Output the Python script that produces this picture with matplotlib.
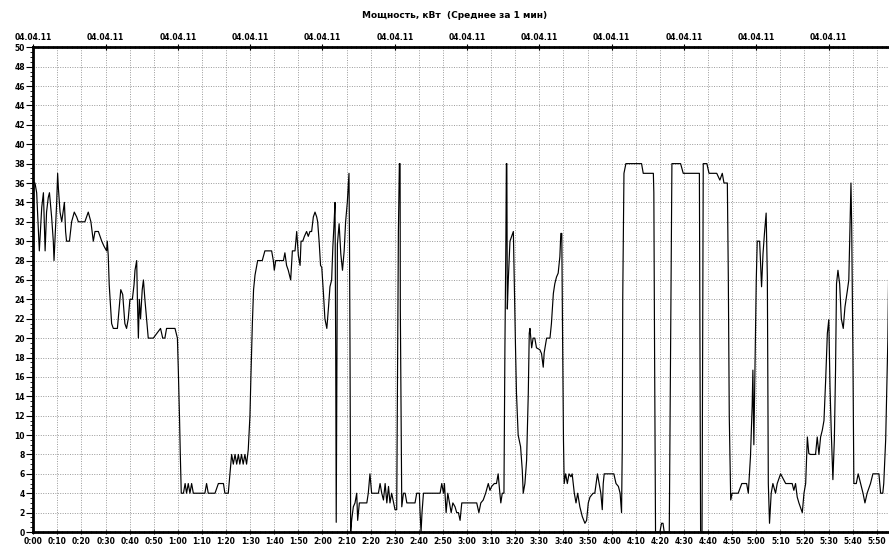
import matplotlib
matplotlib.use("Agg")
import matplotlib.pyplot as plt
from matplotlib.ticker import MultipleLocator, FuncFormatter

# minutes since 0:00 and average power (kW)
minutes = [
    0, 0.7, 1.4, 2.5, 3.5, 4.2, 4.9, 5.5, 6.2, 6.7, 7.6, 8.3, 8.6, 9.7, 10.1, 10.4,
    11.1, 11.8, 12.9, 13.4, 13.8, 15.0, 15.9, 17.0, 18.0, 18.7, 21.4, 22.8, 23.9,
    24.9, 25.6, 27.0, 28.4, 29.3, 30.4, 30.7, 31.1, 31.5, 32.5, 33.2, 34.9, 35.6,
    36.3, 37.1, 38.0, 38.7, 39.4, 40.1, 41.1, 41.8, 42.2, 42.9, 43.2, 43.6, 44.0,
    44.5, 45.2, 45.7, 46.3, 47.0, 47.7, 49.8, 51.9, 52.8, 53.7, 54.6, 55.3, 58.8,
    59.8, 60.2, 60.7, 61.0, 61.4, 62.3, 63.0, 63.6, 64.3, 65.0, 65.7, 66.4, 71.2,
    71.9, 72.6, 75.4, 76.8, 78.9, 79.5, 80.9, 81.6, 82.3, 83.0, 83.7, 84.4, 85.1,
    85.7, 86.4, 87.1, 87.8, 88.5, 89.2, 89.9, 90.3, 90.9, 91.4, 92.0, 93.1, 95.0,
    96.1, 98.9, 99.6, 100.0, 100.6, 103.8, 104.4, 105.1, 105.8, 106.8, 107.5, 108.6,
    109.3, 110.0, 110.7, 111.1, 111.8, 112.5, 113.4, 114.1, 114.8, 115.5, 116.2,
    116.9, 117.6, 118.0, 118.6, 119.2, 119.7, 120.4, 121.0, 121.8, 122.5, 123.1,
    123.8, 124.3, 124.8, 125.2, 125.5, 125.7, 126.0, 126.2, 126.9, 127.6, 128.3,
    129.0, 129.6, 130.3, 131.0, 131.2, 131.4, 131.7, 132.1, 132.8, 133.5, 134.2,
    134.6, 135.3, 135.9, 138.4, 139.0, 139.7, 140.4, 143.2, 143.9, 144.6, 145.3,
    146.0, 146.7, 147.4, 148.0, 148.7, 150.1, 150.8, 151.1, 151.5, 151.9, 152.2,
    152.3, 152.6, 152.9, 153.6, 154.3, 155.0, 158.4, 159.1, 160.2, 160.5, 160.9,
    161.3, 161.9, 168.8, 169.5, 170.2, 170.6, 171.3, 172.0, 172.7, 173.4, 174.1,
    175.0, 175.7, 176.4, 177.1, 177.8, 178.5, 184.0, 184.9, 185.7, 186.7, 187.7,
    188.8, 189.5, 190.2, 191.3, 192.2, 192.9, 193.6, 194.0, 194.6, 195.3, 195.7,
    196.1, 196.3, 196.5, 196.7, 197.1, 197.8, 198.5, 199.2, 199.6, 200.1, 200.5,
    201.2, 202.2, 202.9, 203.3, 204.0, 204.7, 205.4, 205.8, 206.1, 206.8, 207.4,
    208.1, 208.8, 210.2, 210.9, 211.6, 212.0, 213.0, 214.4, 215.0, 215.8, 216.4,
    217.1, 217.8, 218.5, 218.9, 219.3, 219.6, 220.0, 220.3, 220.9, 221.6, 222.3,
    223.1, 223.6, 224.5, 225.2, 225.9, 226.8, 227.8, 228.9, 229.6, 230.3, 231.0,
    232.3, 233.0, 234.1, 234.8, 235.5, 236.1, 236.5, 236.9, 240.9, 241.8, 242.8,
    243.5, 244.1, 244.4, 244.6, 245.1, 245.9, 252.4, 253.1, 257.3, 257.5, 257.8,
    258.2, 260.0, 260.7, 261.3, 261.8, 263.9, 264.5, 265.0, 268.6, 269.7, 276.4,
    276.6, 276.9, 277.5, 278.0, 279.5, 280.4, 283.6, 284.9, 285.9, 286.6, 288.0,
    288.4, 288.8, 289.4, 290.0, 292.5, 294.0, 296.0, 296.7, 297.6, 298.3, 298.6,
    299.0, 299.4, 300.0, 300.4, 301.4, 302.2, 302.8, 303.4, 304.1, 304.6, 305.0,
    305.5, 306.2, 306.9, 308.0, 308.7, 310.1, 312.2, 314.9, 315.6, 316.3, 317.0,
    317.7, 319.1, 319.8, 320.5, 321.2, 321.8, 322.5, 324.6, 325.3, 326.0, 326.7,
    327.4, 328.1, 328.8, 329.5, 330.1, 330.6, 331.1, 331.8, 332.4, 332.9, 333.3,
    333.9, 334.6, 335.3, 336.1, 336.8, 337.8, 338.4, 338.9, 339.3, 339.6, 340.1,
    340.5, 341.5, 342.3, 343.3, 344.3, 345.1, 346.0, 347.4, 348.4, 350.9, 351.6,
    352.5, 352.9, 353.7, 354.1, 354.6, 354.9,
]
power_kw = [
    36, 36, 35, 29, 33.5, 35, 29, 33, 34.5, 35, 32.5, 30, 28, 34, 37, 35.5,
    33, 32, 34, 31, 30, 30, 32, 33, 32.5, 32, 32, 33, 32,
    30, 31, 31, 30, 29.5, 29, 30, 28.5, 25.5, 21.5, 21, 21, 23,
    25, 24.5, 21.5, 21, 22, 24, 24, 25.5, 27, 28, 24, 20, 24,
    22, 25, 26, 24, 22, 20, 20, 20.7, 21, 20, 20, 21, 21,
    20, 16.5, 11.5, 8, 4, 4, 5, 4, 5, 4, 5, 4, 4,
    5, 4, 4, 5, 5, 4, 4, 6, 8, 7, 8, 7, 8,
    7, 8, 7, 8, 7, 8.5, 12, 16, 21.5, 25, 26.5, 28, 28,
    29, 29, 28, 27, 28, 28, 28.8, 27.5, 27, 26, 29, 29,
    31, 28.5, 27.5, 30, 30, 30.5, 31, 30.5, 31, 31, 32.5,
    33, 32.5, 32, 30, 27.5, 27.3, 24.6, 22, 21, 23.2, 25.3,
    26, 29.4, 31.8, 34, 17.7, 1, 17, 29.7, 31.8, 28.7, 27,
    29, 32, 34, 37, 30, 20, 0, 1.2, 2.6, 3, 4,
    1.2, 3, 3, 3, 4, 6, 4, 4, 5, 4, 3.3,
    5, 3, 4.7, 3, 4, 2.3, 2.3, 15, 31, 38, 38,
    23, 13, 2.6, 4, 4, 3, 3, 4, 4, 2, 0,
    2, 4, 4, 5, 4, 5, 2, 4, 3, 2, 3,
    2.6, 2, 2, 1.2, 3, 3, 3, 2, 3, 3.3, 4,
    5, 4.3, 4.7, 5, 5, 6, 4, 3, 4, 4, 19,
    30, 38, 38, 23, 26, 30, 30.5, 31, 25.6, 19, 14.3,
    10, 8.8, 6.4, 4, 5, 7.4, 14.3, 20.5, 21, 19, 20,
    20, 19, 18.8, 18.4, 17, 18.5, 20, 20, 21.5, 24.6, 25.6,
    26.3, 26.7, 28.4, 30.8, 30.8, 21, 9.5, 5, 6, 5, 6,
    5.7, 6, 4, 3, 4, 2.6, 1.6, 0.9, 1.2, 3, 3.6,
    4, 4, 6, 5, 4, 2.3, 5, 6, 6, 5, 4.7,
    4, 2, 8.8, 24.3, 37, 38, 38, 37, 37, 35, 18.8,
    0, 0, 0.9, 0.9, 0, 0, 20.5, 38, 38, 37, 37,
    20.8, 0, 0, 38, 38, 37, 37, 36.3, 37, 36, 36,
    26.3, 11.9, 3.3, 4, 4, 5, 5, 4, 7.8, 13, 16.7,
    9, 16, 26, 30, 30, 25.3, 28.7, 30.8, 32.9, 26.3, 5,
    0.9, 4, 5, 4, 5, 6, 5, 5, 4.3, 5, 3.6,
    3, 2, 4, 5, 9.8, 8.1, 8, 8, 9.8, 8, 9.8,
    10.5, 11.5, 15.7, 20.5, 21.9, 15, 10.5, 5.4, 9.5, 16.7, 25.6,
    27, 25.6, 22, 21, 23.2, 24.9, 26, 31.5, 36, 31.5, 18.4,
    5, 5, 6, 5, 4, 3, 4, 5, 6, 6, 4,
    4, 5, 9.5, 14.3, 19.8, 26,
]

title = "Мощность, кВт  (Среднее за 1 мин)"
date_label = "04.04.11"

plt.rcParams['font.family'] = ['DejaVu Sans']
plt.rcParams['font.weight'] = 'bold'
fig = plt.figure(figsize=(8.89, 5.52), dpi=100)
ax = fig.add_axes([33.3 / 889, 1 - 532 / 552, (887.6 - 33.3) / 889, (532 - 47.3) / 552])

ax.plot(minutes, power_kw, color='black', lw=0.85)

ax.set_xlim(0, 354.5)
ax.set_ylim(0, 50)

# y axis: majors every 2 kW, minor every 0.5
ax.yaxis.set_major_locator(MultipleLocator(2))
ax.yaxis.set_minor_locator(MultipleLocator(0.5))
ax.tick_params(axis='y', which='major', length=5, width=0.8, labelsize=5.5, pad=1)
ax.tick_params(axis='y', which='minor', length=2, width=0.6)

# bottom axis: h:mm every 10 minutes
ax.xaxis.set_major_locator(MultipleLocator(10))
ax.xaxis.set_minor_locator(MultipleLocator(2))
ax.xaxis.set_major_formatter(FuncFormatter(lambda v, p: "%d:%02d" % (int(v) // 60, int(v) % 60)))
ax.tick_params(axis='x', which='major', length=3, width=0.8, labelsize=5.5, pad=2, direction='inout')
ax.tick_params(axis='x', which='minor', length=2, width=0.6, direction='inout')

ax.grid(True, which='major', color='#9a9a9a', linestyle=(0, (1, 1.5)), lw=0.7)

for side in ['left', 'bottom', 'top']:
    ax.spines[side].set_linewidth(2)
ax.spines['right'].set_visible(False)

# top axis with the date every 30 minutes
ax2 = ax.twiny()
ax2.set_xlim(ax.get_xlim())
ax2.xaxis.set_major_locator(MultipleLocator(30))
ax2.xaxis.set_minor_locator(MultipleLocator(2))
ax2.xaxis.set_major_formatter(FuncFormatter(lambda v, p: date_label))
ax2.tick_params(axis='x', which='major', length=4, width=0.8, labelsize=5.5, pad=2, direction='inout')
ax2.tick_params(axis='x', which='minor', length=2, width=0.6, direction='inout')
for s in ax2.spines.values():
    s.set_visible(False)

fig.text(455 / 889, 1 - 16 / 552, title, ha='center', va='center', fontsize=6.5)

fig.savefig("out.png", dpi=100)
